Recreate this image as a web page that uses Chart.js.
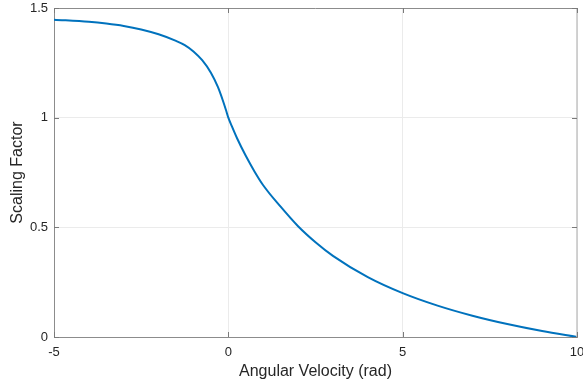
<!DOCTYPE html>
<html>
<head>
<meta charset="utf-8">
<script src="https://cdn.jsdelivr.net/npm/chart.js@4/dist/chart.umd.min.js"></script>
<style>
  html, body { margin: 0; padding: 0; background: #ffffff; }
  #wrap { width: 583px; height: 385px; position: relative; }
</style>
</head>
<body>
<div id="wrap"><canvas id="chart"></canvas></div>
<script>
// Angular velocity samples (rad) and the scaling factor at each one
const velocity = [-5, -4, -3.5, -3, -2.5, -2, -1.5, -1.25, -1, -0.75, -0.5, -0.3, -0.15, -0.07, 0,
                  0.1, 0.25, 0.5, 0.75, 1, 1.5, 2, 2.5, 3, 4, 5, 6, 7, 8, 9, 10];
const scaling  = [1.447, 1.437, 1.429, 1.418, 1.402, 1.38, 1.35, 1.331, 1.302, 1.262, 1.205, 1.14, 1.075, 1.036, 1.0,
                  0.961, 0.906, 0.826, 0.755, 0.692, 0.594, 0.505, 0.432, 0.37, 0.273, 0.2, 0.143, 0.097, 0.059, 0.027, 0.0];

// Axis tick positions and labels
const xTicks = [-5, 0, 5, 10];
const xTickLabels = ['-5', '0', '5', '10'];
const yTicks = [0, 0.5, 1, 1.5];
const yTickLabels = ['0', '0.5', '1', '1.5'];

const points = velocity.map((v, i) => ({ x: v, y: scaling[i] }));

const AXIS_GRAY = '#8c8c8c';
const GRID_GRAY = '#ebebeb';
const TEXT = '#262626';
const FONT = 'Liberation Sans, Arial, Helvetica, sans-serif';

// Closes the axes box (top and right edges) and draws inward tick marks
const axesBox = {
  id: 'axesBox',
  afterDatasetsDraw(chart) {
    const { ctx, chartArea: a, scales: { x, y } } = chart;
    ctx.save();
    ctx.lineWidth = 1;
    ctx.strokeStyle = AXIS_GRAY;
    ctx.beginPath();
    ctx.moveTo(a.left, a.top + 0.5);
    ctx.lineTo(a.right, a.top + 0.5);
    ctx.stroke();
    ctx.strokeStyle = '#c4c4c4';
    ctx.lineWidth = 1.5;
    ctx.beginPath();
    ctx.moveTo(a.right, a.top);
    ctx.lineTo(a.right, a.bottom);
    ctx.stroke();
    ctx.strokeStyle = '#7a7a7a';
    ctx.lineWidth = 1;
    const len = 5;
    xTicks.forEach(v => {
      const px = Math.round(x.getPixelForValue(v)) + 0.5;
      ctx.beginPath();
      ctx.moveTo(px, a.bottom); ctx.lineTo(px, a.bottom - len);
      ctx.moveTo(px, a.top); ctx.lineTo(px, a.top + len);
      ctx.stroke();
    });
    yTicks.forEach(v => {
      const py = Math.round(y.getPixelForValue(v)) + 0.5;
      ctx.beginPath();
      ctx.moveTo(a.left, py); ctx.lineTo(a.left + len, py);
      ctx.moveTo(a.right, py); ctx.lineTo(a.right - len, py);
      ctx.stroke();
    });
    ctx.restore();
  }
};

new Chart(document.getElementById('chart'), {
  type: 'line',
  data: {
    datasets: [{
      data: points,
      borderColor: '#0072BD',
      borderWidth: 2,
      pointRadius: 0,
      fill: false,
      cubicInterpolationMode: 'monotone'
    }]
  },
  options: {
    responsive: true,
    maintainAspectRatio: false,
    animation: false,
    layout: { padding: { top: 8, right: 6, bottom: 0, left: 0 } },
    plugins: { legend: { display: false }, tooltip: { enabled: false } },
    scales: {
      x: {
        type: 'linear',
        min: -5, max: 10,
        afterBuildTicks: s => { s.ticks = xTicks.map(v => ({ value: v })); },
        afterFit: s => { s.height = 48; s.paddingLeft = 0; s.paddingRight = 0; },
        ticks: {
          color: TEXT,
          font: { family: FONT, size: 13 },
          padding: 8,
          maxRotation: 0,
          callback: (v) => xTickLabels[xTicks.indexOf(v)]
        },
        grid: { color: GRID_GRAY, drawTicks: false },
        border: { color: AXIS_GRAY, width: 1 },
        title: {
          display: true,
          text: 'Angular Velocity (rad)',
          color: TEXT,
          font: { family: FONT, size: 16 },
          padding: { top: 4, bottom: 4 }
        }
      },
      y: {
        type: 'linear',
        min: 0, max: 1.5,
        afterBuildTicks: s => { s.ticks = yTicks.map(v => ({ value: v })); },
        afterFit: s => { s.width = 54; s.paddingTop = 0; s.paddingBottom = 0; },
        ticks: {
          color: TEXT,
          font: { family: FONT, size: 13 },
          padding: 6,
          callback: (v) => yTickLabels[yTicks.indexOf(v)]
        },
        grid: { color: GRID_GRAY, drawTicks: false },
        border: { color: AXIS_GRAY, width: 1 },
        title: {
          display: true,
          text: 'Scaling Factor',
          color: TEXT,
          font: { family: FONT, size: 16 },
          padding: { top: 8, bottom: 8 }
        }
      }
    }
  },
  plugins: [axesBox]
});
</script>
</body>
</html>
